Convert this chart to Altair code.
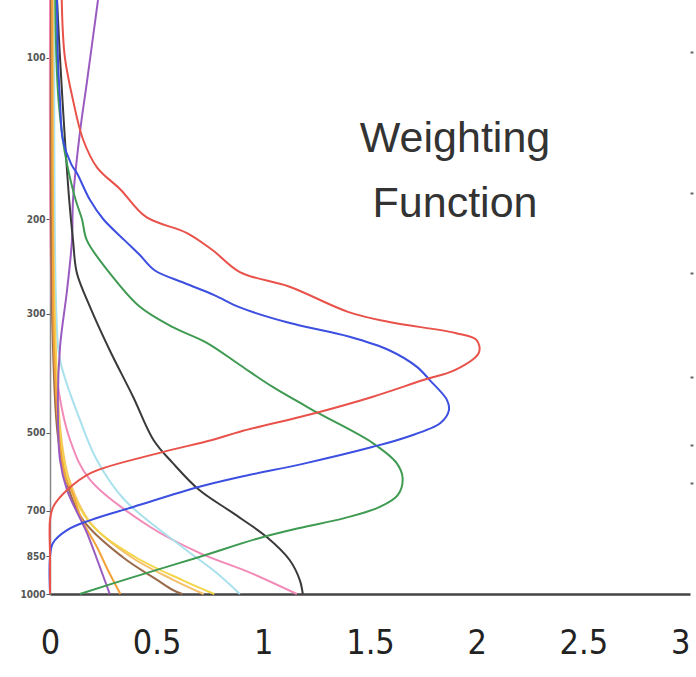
import altair as alt
import pandas as pd

# ---- data (pressure in hPa, weighting value) ----
red_p = [78, 89, 100, 120, 142, 160, 176, 198, 212, 228, 251, 267, 298, 311, 326, 336, 355, 382, 399, 429, 459, 498, 516, 546, 595, 640, 688, 728, 850, 1000]
red_w = [0.055, 0.06, 0.07, 0.108, 0.155, 0.22, 0.33, 0.45, 0.64, 0.76, 0.89, 1.12, 1.40, 1.59, 1.90, 2.0, 2.01, 1.90, 1.75, 1.51, 1.25, 0.89, 0.76, 0.51, 0.19, 0.08, 0.015, 0.0, 0.0, 0.0]

blue_p = [78, 100, 120, 142, 158, 164, 184, 200, 219, 233, 249, 263, 277, 292, 312, 331, 351, 377, 399, 434, 454, 480, 510, 532, 570, 605, 631, 688, 728, 760, 803, 853, 1000]
blue_w = [0.033, 0.037, 0.047, 0.06, 0.10, 0.126, 0.187, 0.25, 0.35, 0.42, 0.49, 0.63, 0.77, 0.89, 1.12, 1.40, 1.59, 1.72, 1.78, 1.86, 1.87, 1.83, 1.67, 1.51, 1.20, 0.89, 0.70, 0.39, 0.19, 0.08, 0.014, 0.0, 0.0]

green_p = [78, 100, 120, 142, 158, 184, 200, 219, 252, 291, 318, 340, 374, 411, 458, 523, 570, 608, 654, 688, 722, 753, 786, 853, 930, 1000]
green_w = [0.025, 0.03, 0.04, 0.06, 0.08, 0.12, 0.15, 0.173, 0.28, 0.42, 0.576, 0.735, 0.89, 1.044, 1.25, 1.513, 1.625, 1.653, 1.63, 1.546, 1.38, 1.171, 0.984, 0.70, 0.39, 0.14]

black_p = [78, 100, 142, 184, 219, 252, 291, 351, 429, 516, 570, 640, 706, 783, 865, 942, 1000]
black_w = [0.033, 0.047, 0.07, 0.09, 0.108, 0.126, 0.187, 0.28, 0.39, 0.485, 0.576, 0.70, 0.857, 1.016, 1.124, 1.171, 1.185]

purple_p = [78, 111, 138, 184, 219, 271, 346, 435, 563, 640, 769, 891, 1000]
purple_w = [0.225, 0.173, 0.14, 0.108, 0.103, 0.08, 0.047, 0.037, 0.047, 0.08, 0.173, 0.234, 0.28]

orange_p = [78, 300, 400, 520, 612, 640, 728, 817, 900, 1000]
orange_w = [0.01, 0.015, 0.025, 0.045, 0.075, 0.10, 0.15, 0.22, 0.27, 0.33]

brown_p = [78, 300, 500, 612, 728, 853, 940, 983, 1000]
brown_w = [0.005, 0.01, 0.035, 0.075, 0.155, 0.34, 0.50, 0.576, 0.62]

yellow_p = [78, 300, 500, 612, 737, 853, 942, 1000]
yellow_w = [0.01, 0.02, 0.047, 0.085, 0.187, 0.40, 0.62, 0.77]

gold_p = [78, 300, 500, 612, 737, 853, 942, 1000]
gold_w = [0.012, 0.022, 0.05, 0.09, 0.19, 0.38, 0.58, 0.72]

cyan_p = [78, 300, 366, 473, 563, 668, 817, 913, 1000]
cyan_w = [0.02, 0.03, 0.047, 0.14, 0.22, 0.35, 0.62, 0.78, 0.89]

pink_p = [78, 300, 399, 516, 612, 750, 838, 913, 1000]
pink_w = [0.0, 0.01, 0.033, 0.094, 0.187, 0.47, 0.70, 0.94, 1.157]

curve_names = ["pink", "cyan", "gold", "yellow", "brown", "orange", "purple", "black", "green", "blue", "red"]
curve_colors = ["#f28ab8", "#a9e1ec", "#f5c06a", "#f3d54a", "#9a6a4a", "#f3a33a", "#9a5bc0", "#3a3a3a", "#3f9a52", "#3c4fe0", "#e8524a"]

left_ticks = [100, 200, 300, 500, 700, 850, 1000]
right_ticks = [97.5, 178.6, 252, 394, 527, 620]
x_ticks = [0, 0.5, 1, 1.5, 2, 2.5, 3]
title_lines = ["Weighting", "Function"]

series = {
    "pink": (pink_p, pink_w), "cyan": (cyan_p, cyan_w), "gold": (gold_p, gold_w),
    "yellow": (yellow_p, yellow_w), "brown": (brown_p, brown_w), "orange": (orange_p, orange_w),
    "purple": (purple_p, purple_w), "black": (black_p, black_w), "green": (green_p, green_w),
    "blue": (blue_p, blue_w), "red": (red_p, red_w),
}
rows = []
for k, name in enumerate(curve_names):
    ps, ws = series[name]
    for p, w in zip(ps, ws):
        rows.append({"curve": name, "p": p, "w": w, "k": k})
df = pd.DataFrame(rows)

xscale = alt.Scale(domain=[0, 3], nice=False, zero=False)
yscale = alt.Scale(type="log", domain=[78, 1000], reverse=True, nice=False)

lines = alt.Chart(df).mark_line(strokeWidth=2, interpolate="catmull-rom").encode(
    x=alt.X("w:Q", scale=xscale, axis=alt.Axis(
        values=x_ticks, format="~g", title=None, grid=False, tickSize=0, labelPadding=32,
        labelFontSize=34, labelFont="DejaVu Sans Condensed, Liberation Sans, sans-serif",
        labelColor="#222",
        labelAlign={"condition": {"test": "datum.value == 3", "value": "right"}, "value": "center"},
        domainColor="#444", domainWidth=2.5, labelOverlap=False, labelFlush=False,
        labelBound=False)),
    y=alt.Y("p:Q", scale=yscale, axis=alt.Axis(
        values=left_ticks, format="d", title=None, grid=False, tickSize=4, tickColor="#555",
        labelFontSize=10, labelFontWeight="bold", labelColor="#555",
        labelFont="DejaVu Sans Condensed, Liberation Sans, sans-serif",
        domainColor="#888", domainWidth=1.5, labelPadding=1)),
    color=alt.Color("curve:N", scale=alt.Scale(domain=curve_names, range=curve_colors), legend=None),
    order=alt.Order("p:Q"),
    detail="k:N",
)

right = alt.Chart(df).mark_point(opacity=0).encode(
    x=alt.value(640),
    y=alt.Y("p:Q", scale=yscale, axis=alt.Axis(
        orient="right", values=right_ticks, labels=False, domain=False, grid=False,
        tickSize=3, tickColor="#666", tickWidth=2, title=None)),
)

title_df = pd.DataFrame({"label": ["\n".join(title_lines)]})
title = alt.Chart(title_df).mark_text(
    lineBreak="\n", fontSize=43, font="Liberation Sans", color="#333",
    align="center", baseline="alphabetic", lineHeight=65,
).encode(x=alt.value(405), y=alt.value(152), text="label:N")

chart = alt.layer(lines, right, title).resolve_axis(y="independent").properties(
    width=640, height=594,
    autosize=alt.AutoSizeParams(type="none"),
    padding={"left": 50, "top": 0, "right": 6, "bottom": 83},
    background="white",
).configure_view(strokeWidth=0)

chart.save("out.html", embed_options={"renderer": "svg", "actions": False})
